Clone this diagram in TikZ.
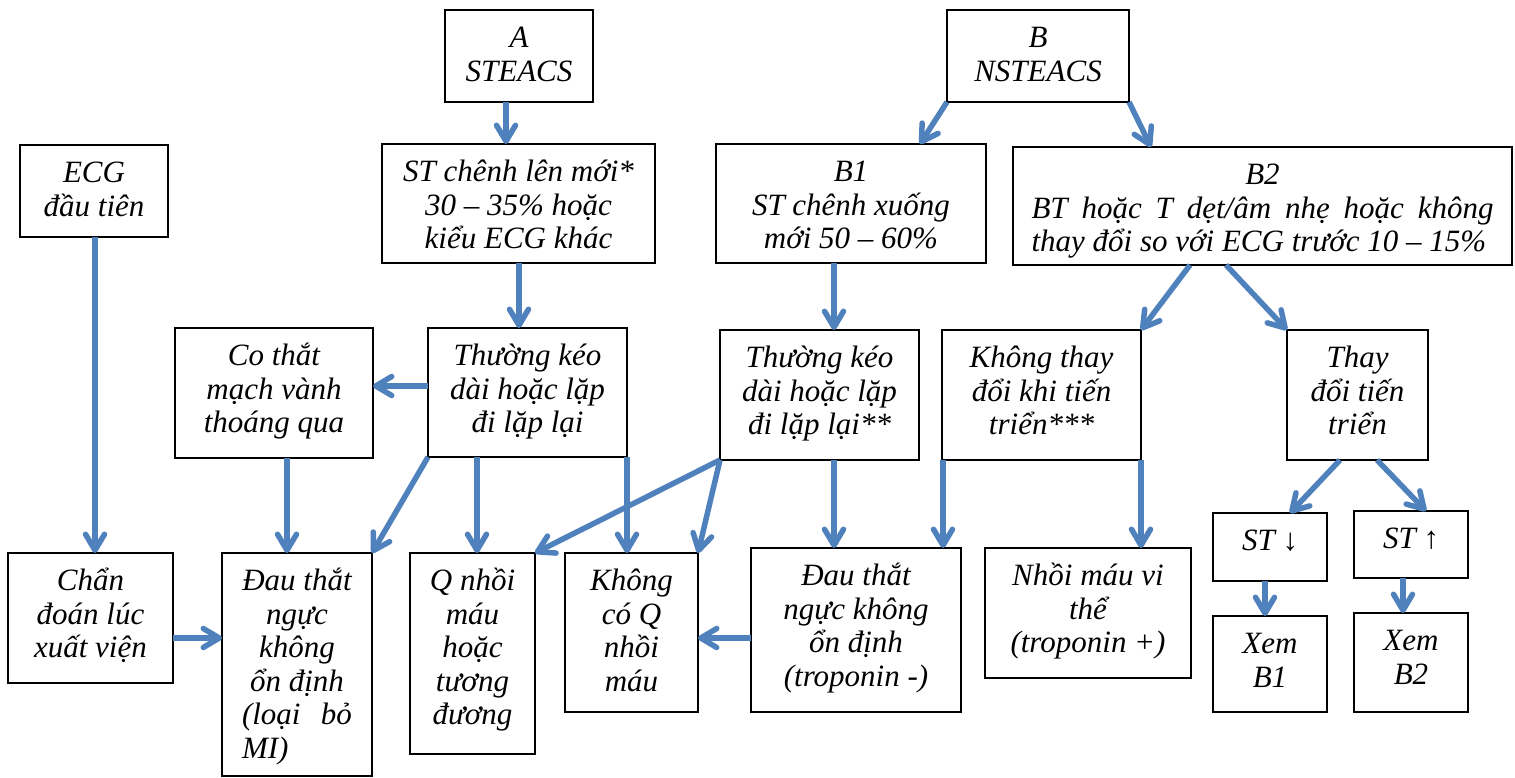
\documentclass[tikz,border=0pt]{standalone}
\usepackage{fontspec}
\setmainfont{Liberation Serif}
\usetikzlibrary{arrows.meta,calc}
\definecolor{arrblue}{RGB}{79,129,189}
\tikzset{
  bx/.style={anchor=north west, draw=black, line width=2.5pt, inner sep=0pt, outer sep=0pt, fill=white},
  tx/.style={anchor=north, align=center, inner sep=0pt, outer sep=0pt,
    font={\itshape\fontsize{31}{33.5}\selectfont\lineskiplimit=-100pt\lineskip=0pt}},
  arr/.style={draw=arrblue, line width=5.5pt, -{Straight Barb[length=16pt,width=19pt,round]}},
}
\newcommand\bx[6]{%
  \node[bx, minimum width={#4-#2}, minimum height={#5-#3}] (#1) at (#2,#3) {};
  \node[tx] (#1t) at ([yshift=-7.5pt]#1.north) {\rule{0pt}{30pt}#6};
}
\begin{document}
\begin{tikzpicture}[x=1pt,y=-1pt]
\fill[white] (0,0) rectangle (1515,777);
\useasboundingbox (0,0) rectangle (1515,777);

\bx{A}{445}{10}{593}{102}{A\\STEACS}
\bx{B}{947}{10}{1129}{102}{B\\NSTEACS}
\bx{ECG}{20}{145}{168}{237}{ECG\\đầu tiên}
\bx{STlen}{382}{144}{655}{263}{ST chênh lên mới*\\30 – 35\% hoặc\\kiểu ECG khác}
\bx{Bone}{716}{144}{986}{263}{B1\\ST chênh xuống\\mới 50 – 60\%}
\bx{Btwo}{1013}{147}{1512}{265}{B2\\\hbox to 462pt{BT\hfill hoặc\hfill T\hfill dẹt/âm\hfill nhẹ\hfill hoặc\hfill không}\\\hbox to 462pt{thay đổi so với ECG trước 10 – 15\%\hfill}}
\bx{CoT}{175}{328}{373}{458}{Co thắt\\mạch vành\\thoáng qua}
\bx{ThA}{428}{328}{627}{457}{Thường kéo\\dài hoặc lặp\\đi lặp lại}
\bx{ThB}{720}{330}{919}{460}{Thường kéo\\dài hoặc lặp\\đi lặp lại**}
\bx{KTD}{942}{330}{1141}{460}{Không thay\\đổi khi tiến\\triển***}
\bx{TD}{1287}{330}{1428}{460}{Thay\\đổi tiến\\triển}
\bx{ChD}{8}{553}{173}{683}{Chẩn\\đoán lúc\\xuất viện}
\bx{DTone}{222}{553}{372}{776}{Đau thắt\\ngực\\không\\ổn định\\\hbox to 110pt{(loại\hfill bỏ}\\\hbox to 110pt{MI)\hfill}}
\bx{QNM}{410}{553}{535}{754}{Q nhồi\\máu\\hoặc\\tương\\đương}
\bx{KhQ}{565}{553}{698}{712}{Không\\có Q\\nhồi\\máu}
\bx{DTtwo}{751}{548}{961}{712}{Đau thắt\\ngực không\\ổn định\\(troponin -)}
\bx{NMVT}{985}{548}{1191}{678}{Nhồi máu vi\\thể\\(troponin +)}
\bx{STd}{1213}{513}{1327}{581}{ST ↓}
\bx{STu}{1354}{511}{1468}{578}{ST ↑}
\bx{XBone}{1213}{616}{1327}{712}{Xem\\B1}
\bx{XBtwo}{1354}{613}{1468}{712}{Xem\\B2}

% connectors
\draw[arr] ([xshift=61pt]A.south west) coordinate (a1) -- (a1 |- STlen.north);
\draw[arr] ([xshift=137pt]STlen.south west) coordinate (a2) -- (a2 |- ThA.north);
\draw[arr] ([xshift=75pt]ECG.south west) coordinate (a3) -- (a3 |- ChD.north);
\draw[arr] ([yshift=-58pt]ThA.north west) coordinate (a4) -- (a4 -| CoT.east);
\draw[arr] ([xshift=112pt]CoT.south west) coordinate (a5) -- (a5 |- DTone.north);
\draw[arr] (ThA.south west) -- (DTone.north east);
\draw[arr] ([xshift=49pt]ThA.south west) coordinate (a7) -- (a7 |- QNM.north);
\draw[arr] (ThA.south east) -- (ThA.south east |- KhQ.north);
\draw[arr] (ThB.south west) -- (QNM.north east);
\draw[arr] (ThB.south west) -- (KhQ.north east);
\draw[arr] ([yshift=-85pt]ChD.north east) coordinate (a11) -- (a11 -| DTone.west);
\draw[arr] ([yshift=-90pt]DTtwo.north west) coordinate (a12) -- (a12 -| KhQ.east);
\draw[arr] (B.south west) -- ([xshift=204pt]Bone.north west);
\draw[arr] (B.south east) -- ([xshift=138pt]Btwo.north west);
\draw[arr] ([xshift=118pt]Bone.south west) coordinate (a15) -- (a15 |- ThB.north);
\draw[arr] ([xshift=114pt]ThB.south west) coordinate (a16) -- (a16 |- DTtwo.north);
\draw[arr] ([xshift=1pt]KTD.south west) coordinate (a17) -- (a17 |- DTtwo.north);
\draw[arr] (KTD.south east) -- (KTD.south east |- NMVT.north);
\draw[arr] ([xshift=177pt]Btwo.south west) -- (KTD.north east);
\draw[arr] ([xshift=213pt]Btwo.south west) -- (TD.north west);
\draw[arr] ([xshift=53pt]TD.south west) -- ([xshift=77pt]STd.north west);
\draw[arr] ([xshift=90pt]TD.south west) -- ([xshift=72pt]STu.north west);
\draw[arr] ([xshift=52pt]STd.south west) coordinate (a23) -- (a23 |- XBone.north);
\draw[arr] ([xshift=49pt]STu.south west) coordinate (a24) -- (a24 |- XBtwo.north);
\end{tikzpicture}
\end{document}
